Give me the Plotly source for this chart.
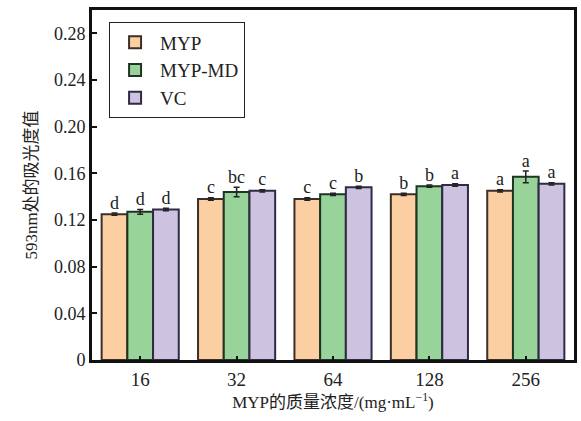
import plotly.graph_objects as go

categories = ["16", "32", "64", "128", "256"]
series_names = ["MYP", "MYP-MD", "VC"]
myp = [0.125, 0.138, 0.138, 0.142, 0.145]
myp_md = [0.127, 0.144, 0.142, 0.149, 0.157]
vc = [0.129, 0.145, 0.148, 0.150, 0.151]
myp_err = [0.001, 0.001, 0.001, 0.001, 0.001]
myp_md_err = [0.002, 0.004, 0.001, 0.001, 0.005]
vc_err = [0.001, 0.001, 0.001, 0.001, 0.001]
myp_letters = ["d", "c", "c", "b", "a"]
myp_md_letters = ["d", "bc", "c", "b", "a"]
vc_letters = ["d", "c", "b", "a", "a"]
y_ticks = [0, 0.04, 0.08, 0.12, 0.16, 0.20, 0.24, 0.28]
y_tick_text = ["0", "0.04", "0.08", "0.12", "0.16", "0.20", "0.24", "0.28"]

fills = ["#FCCFA3", "#98D39A", "#CDC2E0"]
lines = ["#3b2f28", "#1f3524", "#2f2a45"]
font_family = "'Liberation Serif', 'DejaVu Serif', 'Noto Sans CJK SC', serif"

values = [myp, myp_md, vc]
errs = [myp_err, myp_md_err, vc_err]
letters = [myp_letters, myp_md_letters, vc_letters]

x = list(range(len(categories)))
bw = 0.8 / 3
offsets = [-bw, 0, bw]

fig = go.Figure()
for i in range(3):
    fig.add_trace(go.Bar(
        x=x, y=values[i], name=series_names[i],
        marker=dict(color=fills[i], line=dict(color=lines[i], width=2)),
        error_y=dict(type="data", array=errs[i], color="#222", thickness=1.5, width=3),
    ))
for i in range(3):
    fig.add_trace(go.Scatter(
        x=[xx + offsets[i] for xx in x],
        y=[v + e for v, e in zip(values[i], errs[i])],
        mode="text", text=letters[i], textposition="top center",
        textfont=dict(family=font_family, size=18, color="#222"),
        showlegend=False, hoverinfo="skip",
    ))

fig.update_layout(
    width=581, height=421,
    margin=dict(l=92, r=4, t=10, b=61),
    barmode="group", bargap=0.2, bargroupgap=0,
    plot_bgcolor="white", paper_bgcolor="white",
    font=dict(family=font_family, size=18, color="#222"),
    legend=dict(x=0.035, y=0.965, xanchor="left", yanchor="top",
                bordercolor="#222", borderwidth=1.2, bgcolor="white",
                font=dict(size=19), tracegroupgap=0, itemwidth=40),
    xaxis=dict(range=[-0.5, 4.5], tickvals=x, ticktext=categories,
               showline=True, linecolor="#111", linewidth=3, mirror=True,
               ticks="inside", ticklen=4, tickwidth=2, tickcolor="#111",
               showgrid=False, zeroline=False, tickfont=dict(size=19),
               title=dict(text="MYP的质量浓度/(mg·mL<sup>−1</sup>)", standoff=4,
                          font=dict(size=17))),
    yaxis=dict(range=[0, 0.30], tickvals=y_ticks, ticktext=y_tick_text,
               showline=True, linecolor="#111", linewidth=3, mirror=True,
               ticks="inside", ticklen=5, tickwidth=2, tickcolor="#111",
               showgrid=False, zeroline=False, tickfont=dict(size=18),
               title=dict(text="593nm处的吸光度值", standoff=12,
                          font=dict(size=17))),
)

fig.write_html("out.html")
